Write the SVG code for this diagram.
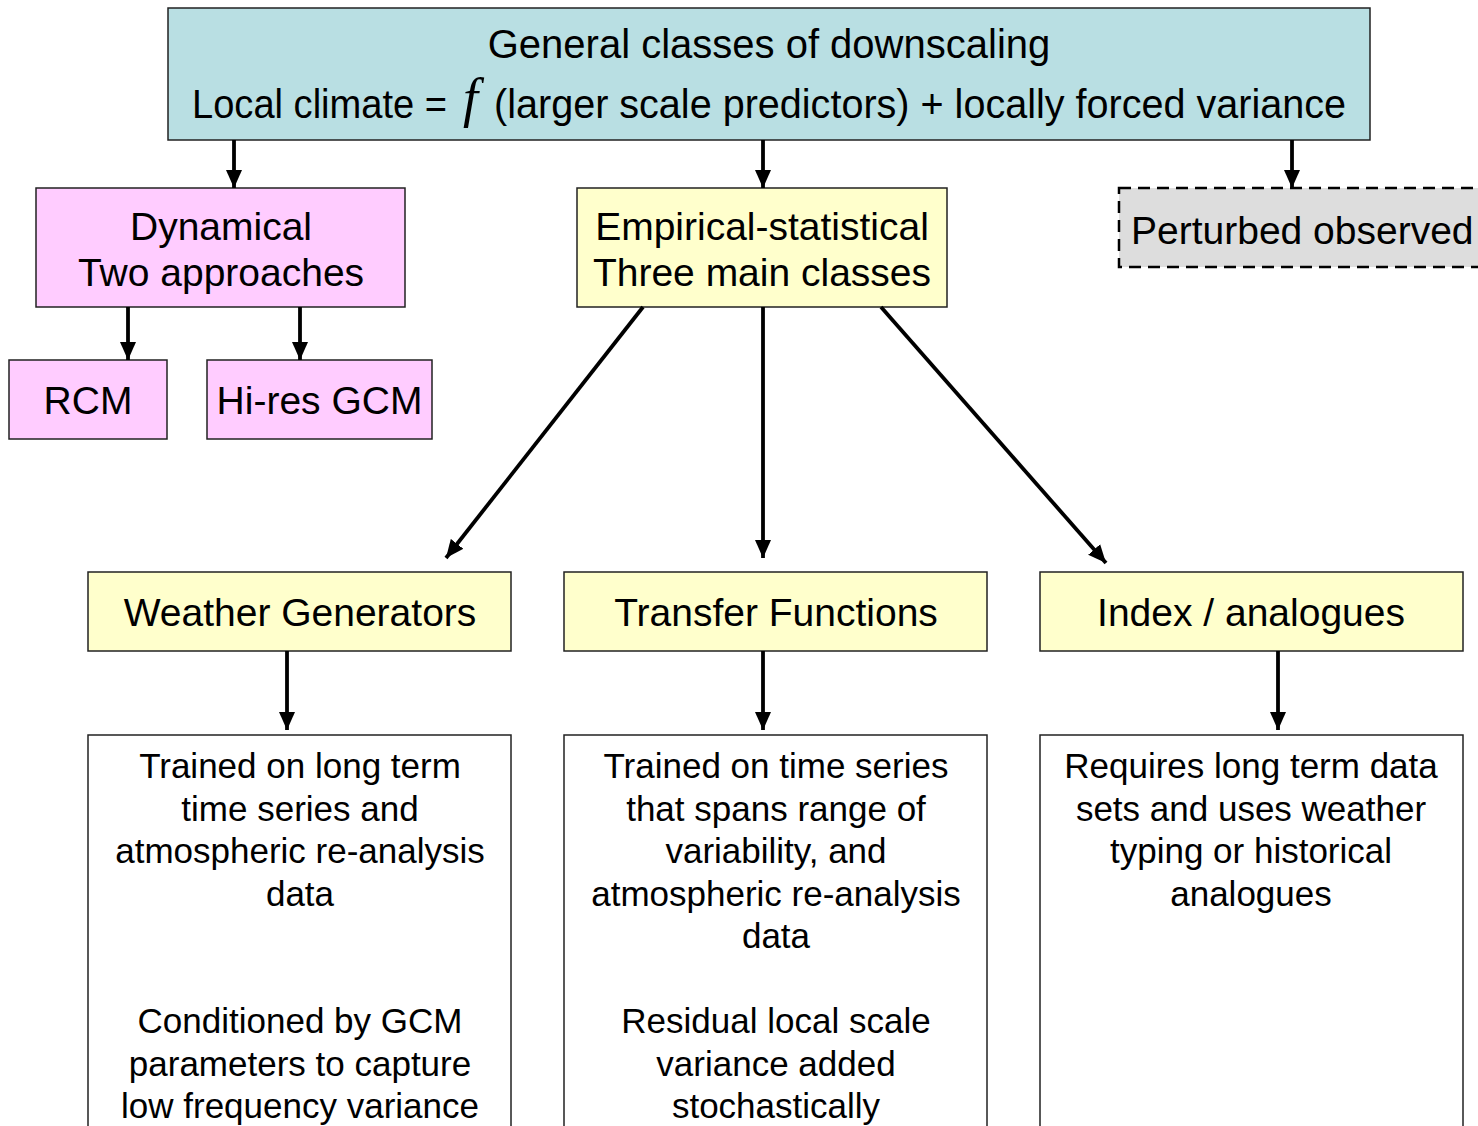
<svg xmlns="http://www.w3.org/2000/svg" width="1478" height="1126" viewBox="0 0 1478 1126">
<defs>
<style>
.box{stroke:#222;stroke-width:1.5}
.t{font-family:"Liberation Sans",Arial,sans-serif;fill:#000;text-anchor:middle}
.title{font-size:40px}
.lbl{font-size:39px}
.body{font-size:35px}
.conn{stroke:#000;stroke-width:3.8;fill:none;marker-end:url(#ah)}
</style>
<marker id="ah" markerUnits="userSpaceOnUse" markerWidth="18" markerHeight="18" viewBox="0 0 18 18" refX="18" refY="9" orient="auto">
<path d="M0,1 L18,9 L0,17 Z" fill="#000"/>
</marker>
</defs>
<rect width="1478" height="1126" fill="#fff"/>

<g id="top">
<rect class="box" x="168" y="8" width="1202" height="132" fill="#b9dfe3"/>
<text class="t title" x="769" y="58">General classes of downscaling</text>
<text class="t title" x="192" y="118" textLength="255" lengthAdjust="spacingAndGlyphs" style="text-anchor:start">Local climate =</text>
<text x="463" y="116" style="font-family:'Liberation Serif','Times New Roman',serif;font-style:italic;font-size:54px">f</text>
<text class="t title" x="494" y="118" textLength="852" lengthAdjust="spacingAndGlyphs" style="text-anchor:start">(larger scale predictors) + locally forced variance</text>
</g>

<g id="dynamical">
<rect class="box" x="36" y="188" width="369" height="119" fill="#ffccff"/>
<text class="t lbl" x="221" y="240">Dynamical</text>
<text class="t lbl" x="221" y="286">Two approaches</text>
</g>

<g id="rcm">
<rect class="box" x="9" y="360" width="158" height="79" fill="#ffccff"/>
<text class="t lbl" x="88" y="414">RCM</text>
</g>

<g id="hires">
<rect class="box" x="207" y="360" width="225" height="79" fill="#ffccff"/>
<text class="t lbl" x="319.5" y="414">Hi-res GCM</text>
</g>

<g id="empirical">
<rect class="box" x="577" y="188" width="370" height="119" fill="#ffffcc"/>
<text class="t lbl" x="762" y="240">Empirical-statistical</text>
<text class="t lbl" x="762" y="286">Three main classes</text>
</g>

<g id="perturbed">
<rect x="1119" y="188" width="380" height="79" fill="#dddddd" stroke="#000" stroke-width="2.5" stroke-dasharray="12 7"/>
<text class="t lbl" x="1131" y="244" style="text-anchor:start">Perturbed observed</text>
</g>

<g id="wg">
<rect class="box" x="88" y="572" width="423" height="79" fill="#ffffcc"/>
<text class="t lbl" x="300" y="626">Weather Generators</text>
</g>

<g id="tf">
<rect class="box" x="564" y="572" width="423" height="79" fill="#ffffcc"/>
<text class="t lbl" x="776" y="626">Transfer Functions</text>
</g>

<g id="index">
<rect class="box" x="1040" y="572" width="423" height="79" fill="#ffffcc"/>
<text class="t lbl" x="1251" y="626">Index / analogues</text>
</g>

<g id="wg-desc">
<rect class="box" x="88" y="735" width="423" height="400" fill="#fff"/>
<text class="t body" x="300" y="778">Trained on long term</text>
<text class="t body" x="300" y="820.5">time series and</text>
<text class="t body" x="300" y="863">atmospheric re-analysis</text>
<text class="t body" x="300" y="905.5">data</text>
<text class="t body" x="300" y="1033">Conditioned by GCM</text>
<text class="t body" x="300" y="1075.5">parameters to capture</text>
<text class="t body" x="300" y="1118">low frequency variance</text>
</g>

<g id="tf-desc">
<rect class="box" x="564" y="735" width="423" height="400" fill="#fff"/>
<text class="t body" x="776" y="778">Trained on time series</text>
<text class="t body" x="776" y="820.5">that spans range of</text>
<text class="t body" x="776" y="863">variability, and</text>
<text class="t body" x="776" y="905.5">atmospheric re-analysis</text>
<text class="t body" x="776" y="948">data</text>
<text class="t body" x="776" y="1033">Residual local scale</text>
<text class="t body" x="776" y="1075.5">variance added</text>
<text class="t body" x="776" y="1118">stochastically</text>
</g>

<g id="index-desc">
<rect class="box" x="1040" y="735" width="423" height="400" fill="#fff"/>
<text class="t body" x="1251" y="778">Requires long term data</text>
<text class="t body" x="1251" y="820.5">sets and uses weather</text>
<text class="t body" x="1251" y="863">typing or historical</text>
<text class="t body" x="1251" y="905.5">analogues</text>
</g>

<g id="connectors">
<line class="conn" x1="234" y1="140" x2="234" y2="188"/>
<line class="conn" x1="763" y1="140" x2="763" y2="188"/>
<line class="conn" x1="1292" y1="140" x2="1292" y2="188"/>
<line class="conn" x1="128" y1="307" x2="128" y2="360"/>
<line class="conn" x1="300" y1="307" x2="300" y2="360"/>
<line class="conn" x1="643" y1="307" x2="446" y2="558"/>
<line class="conn" x1="763" y1="307" x2="763" y2="558"/>
<line class="conn" x1="881" y1="307" x2="1106" y2="563"/>
<line class="conn" x1="287" y1="651" x2="287" y2="730"/>
<line class="conn" x1="763" y1="651" x2="763" y2="730"/>
<line class="conn" x1="1278" y1="651" x2="1278" y2="730"/>
</g>
</svg>
